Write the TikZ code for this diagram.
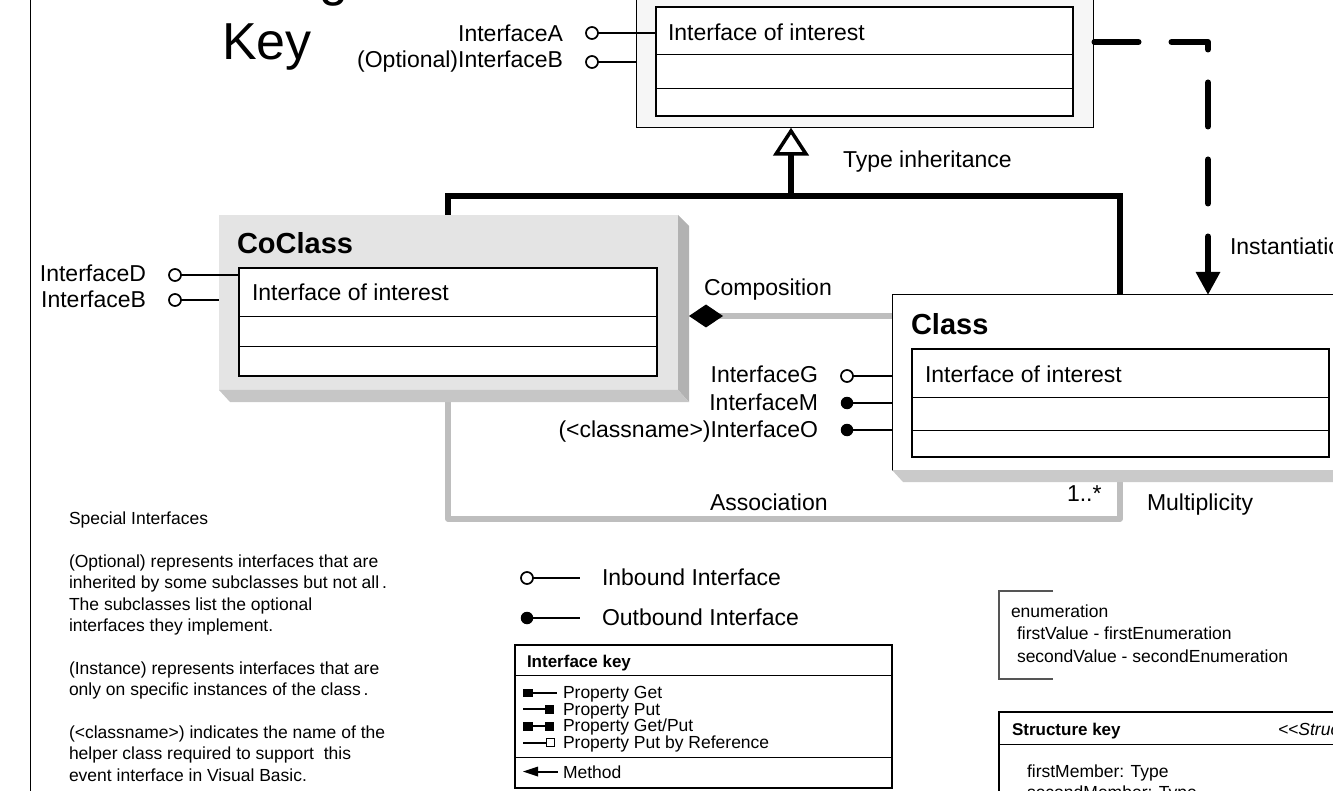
\documentclass[tikz,border=0pt]{standalone}
\usepackage{fontspec}
\setmainfont{Liberation Sans}
\usetikzlibrary{arrows.meta,backgrounds}
\definecolor{topfill}{HTML}{F6F6F6}
\definecolor{faceg}{HTML}{E4E4E4}
\definecolor{sideg}{HTML}{B2B2B2}
\definecolor{bottomg}{HTML}{C6C6C6}
\definecolor{linkg}{HTML}{BEBEBE}
\definecolor{shadowg}{HTML}{CACACA}
\definecolor{enumg}{HTML}{555555}
\begin{document}
\begin{tikzpicture}[x=1pt,y=-1pt,
  txt/.style={inner sep=0pt,outer sep=0pt,anchor=base west,font=\fontsize{23}{27}\selectfont},
  txtr/.style={txt,anchor=base east},
  small/.style={inner sep=0pt,outer sep=0pt,anchor=base west,font=\fontsize{17.5}{21}\selectfont},
  keyhead/.style={inner sep=0pt,outer sep=0pt,anchor=base west,font=\fontsize{17}{20}\selectfont\bfseries},
  boxtitle/.style={inner sep=0pt,outer sep=0pt,anchor=base west,font=\fontsize{29}{34}\selectfont\bfseries},
  plainbox/.style={inner sep=0pt,outer sep=0pt,anchor=north west},
  innerbox/.style={plainbox,draw,line width=2,fill=white},
  divider/.style={line width=0.9},
  inport/.style={circle,draw,line width=1.7,fill=white,minimum size=12,inner sep=0pt,outer sep=0pt},
  outport/.style={circle,fill=black,minimum size=12.5,inner sep=0pt,outer sep=0pt},
  portline/.style={line width=1.5},
  inherit/.style={line width=6,line join=miter},
  link/.style={line width=5.5,linkg,line join=round},
  inst/.style={line width=6,line cap=round,line join=round,dash pattern=on 44pt off 33pt},
  symline/.style={line width=2}
]
\useasboundingbox (0,0) rectangle (1333,791);
\clip (0,0) rectangle (1333,791);

% left border
\draw[line width=1.2] (30.5,0) -- (30.5,791);

% title
\node[inner sep=0pt,anchor=base west,font=\fontsize{52}{60}\selectfont] (gpart) at (319,-4) {g};
\node[inner sep=0pt,anchor=base west,font=\fontsize{52}{60}\selectfont] (key) at (222,60) {Key};

% ---------- top (abstract) box ----------
\node[plainbox,draw,line width=1,fill=topfill,minimum width=457,minimum height=150,anchor=south west] (topouter) at (636,128) {};
\node[innerbox,minimum width=417,minimum height=109] (topinner) at (656,7) {};
\draw[divider] ([yshift=-47]topinner.north west) -- ([yshift=-47]topinner.north east);
\draw[divider] ([yshift=-81]topinner.north west) -- ([yshift=-81]topinner.north east);
\node[txt] (topiface) at (668,41) {Interface of interest};

\node[inport] (pA) at (592,33) {};
\draw[portline] (pA) -- (topinner.west |- pA);
\node[txtr] (tA) at (563,42) {InterfaceA};
\node[inport] (pB) at (592,62) {};
\draw[portline] (pB) -- (topouter.west |- pB);
\node[txtr] (tB) at (563,68) {(Optional)InterfaceB};

% ---------- CoClass ----------
\node[plainbox,fill=faceg,minimum width=459,minimum height=175] (coface) at (219,215) {};
\fill[sideg] (coface.north east) -- ++(11,11) -- ++(0,176) -- (coface.south east) -- cycle;
\fill[bottomg] (coface.south west) -- (coface.south east) -- ++(11,12) -- ++(-459,0) -- cycle;
\node[boxtitle] (cotitle) at (237,254) {CoClass};
\node[innerbox,minimum width=418,minimum height=108] (coinner) at (239,268) {};
\draw[divider] ([yshift=-48]coinner.north west) -- ([yshift=-48]coinner.north east);
\draw[divider] ([yshift=-78]coinner.north west) -- ([yshift=-78]coinner.north east);
\node[txt] (coiface) at (252,301) {Interface of interest};

\node[inport] (pD) at (175,275) {};
\draw[portline] (pD) -- (coinner.west |- pD);
\node[txtr] (tD) at (146,282) {InterfaceD};
\node[inport] (pB2) at (175,300) {};
\draw[portline] (pB2) -- (coface.west |- pB2);
\node[txtr] (tB2) at (146,308) {InterfaceB};

% ---------- Class ----------
\node[plainbox,draw,line width=1,fill=white,minimum width=457,minimum height=175] (classouter) at (892,295) {};
\fill[shadowg] (classouter.south west) -- ++(11,12) -- ++(480,0) -- ++(0,-12) -- cycle;
\node[boxtitle] (cltitle) at (911,335) {Class};
\node[innerbox,minimum width=417,minimum height=108] (clinner) at (912,349) {};
\draw[divider] ([yshift=-48]clinner.north west) -- ([yshift=-48]clinner.north east);
\draw[divider] ([yshift=-81]clinner.north west) -- ([yshift=-81]clinner.north east);
\node[txt] (cliface) at (925,382) {Interface of interest};

\node[inport] (pG) at (847,376) {};
\draw[portline] (pG) -- (classouter.west |- pG);
\node[txtr] (tG) at (818,383) {InterfaceG};
\node[outport] (pM) at (847,403) {};
\draw[portline] (pM) -- (classouter.west |- pM);
\node[txtr] (tM) at (818,410) {InterfaceM};
\node[outport] (pO) at (847,430) {};
\draw[portline] (pO) -- (classouter.west |- pO);
\node[txtr] (tO) at (818,437) {(<classname>)InterfaceO};

% ---------- connectors (behind boxes) ----------
\coordinate (ihL) at (448,196);
\coordinate (ihJ) at (791,196);
\coordinate (ihR) at (1120,196);
\coordinate (asL) at (448,519);
\coordinate (asR) at (1120,519);
\coordinate (diac) at (706,316);
\begin{pgfonlayer}{background}
  \draw[inherit] (coface.north -| ihL) |- (ihJ) -| (classouter.north -| ihR);
  \draw[inherit] (ihJ) -- ([yshift=-26]topouter.south -| ihJ);
  \draw[link] (coface.south -| asL) |- (asR) -- (classouter.south -| asR);
  \draw[link] (diac) -- (classouter.west |- diac);
\end{pgfonlayer}
% inheritance triangle
\draw[line width=3.5,fill=white,line join=miter] ([yshift=-3]topouter.south -| ihJ) -- ++(15,23) -- ++(-30,0) -- cycle;
% composition diamond
\fill (diac) ++(-17,0) -- ++(17,-11.5) -- ++(17,11.5) -- ++(-17,11.5) -- cycle;

% instantiation
\coordinate (instC) at (1208,42);
\coordinate (instE) at (1208,206);
\coordinate (instA) at (1208,236.5);
\path (topouter.east |- instC) ++(1.5,0) coordinate (instS);
\draw[inst] (instS) -- (instC) -- (instE);
\draw[line width=6,line cap=round,-{Triangle[length=23pt,width=23pt]}] (instA) -- (classouter.north -| instA);

% connector labels
\node[txt] (lType) at (843,168) {Type inheritance};
\node[txt] (lInst) at (1230,255) {Instantiation};
\node[txt] (lComp) at (704,296) {Composition};
\node[txt] (lAssoc) at (710,510) {Association};
\node[txt] (lMult1) at (1067,501) {1..*};
\node[txt] (lMult) at (1147,510) {Multiplicity};

% ---------- special interfaces text ----------
\foreach \i/\yy/\tt in {1/524/Special Interfaces,
  2/567/(Optional) represents interfaces that are,
  3/588/inherited by some subclasses but not all\thinspace.,
  4/610/The subclasses list the optional,
  5/631/interfaces they implement.,
  6/674/(Instance) represents interfaces that are,
  7/695/only on specific instances of the class\thinspace.,
  8/738/(<classname>) indicates the name of the,
  9/759/helper class required to support \ this,
  10/781/event interface in Visual Basic.}
  {\node[small] (sp\i) at (69,\yy) {\tt};}

% ---------- legend ----------
\node[inport] (lin) at (527,578) {};
\coordinate (linE) at (580,578);
\draw[portline] (lin) -- (linE);
\node[txt] (lintx) at (602,585) {Inbound Interface};
\node[outport] (lout) at (527,618) {};
\coordinate (loutE) at (580,618);
\draw[portline] (lout) -- (loutE);
\node[txt] (louttx) at (602,625) {Outbound Interface};

% interface key
\node[plainbox,draw,line width=2,minimum width=377,minimum height=143] (ikey) at (515,645) {};
\draw[divider] ([yshift=-30]ikey.north west) -- ([yshift=-30]ikey.north east);
\draw[divider] ([yshift=-112]ikey.north west) -- ([yshift=-112]ikey.north east);
\node[keyhead] (ikeyh) at (527,667) {Interface key};
\fill (523,688.5) rectangle (533,697);
\draw[symline] (533,692.7) -- (557,692.7);
\draw[symline] (523,709.3) -- (545,709.3);
\fill (545,705) rectangle (554,713.5);
\fill (523,722) rectangle (533,730.5);
\draw[symline] (533,726.2) -- (545,726.2);
\fill (545,722) rectangle (554,730.5);
\draw[symline] (523,742.7) -- (546,742.7);
\draw[line width=1.5,fill=white] (546.5,738.5) rectangle (554.5,746.5);
\fill (523,771.5) -- (538,766.5) -- (538,776.5) -- cycle;
\draw[symline] (538,771.5) -- (558,771.5);
\node[small] (k1) at (563,698) {Property Get};
\node[small] (k2) at (563,715) {Property Put};
\node[small] (k3) at (563,731) {Property Get/Put};
\node[small] (k4) at (563,748) {Property Put by Reference};
\node[small] (k5) at (563,778) {Method};

% enumeration
\draw[enumg,line width=1.2] (1053,591) -- (999,591) -- (999,679) -- (1053,679);
\node[small] (en1) at (1011,617) {enumeration};
\node[small] (en2) at (1017,639) {firstValue - firstEnumeration};
\node[small] (en3) at (1017,662) {secondValue - secondEnumeration};

% structure key
\node[plainbox,draw,line width=2,minimum width=400,minimum height=150] (skey) at (999,712) {};
\draw[divider] ([yshift=-32]skey.north west) -- ([yshift=-32]skey.north east);
\node[keyhead] (skeyh) at (1012,735) {Structure key};
\node[small,font=\fontsize{17.5}{21}\selectfont\itshape] (sstereo) at (1278,735) {{<}{<}Structure{>}{>}};
\node[small] (sm1) at (1027,777) {firstMember: Type};
\node[small] (sm2) at (1027,798) {secondMember: Type};
\end{tikzpicture}
\end{document}
